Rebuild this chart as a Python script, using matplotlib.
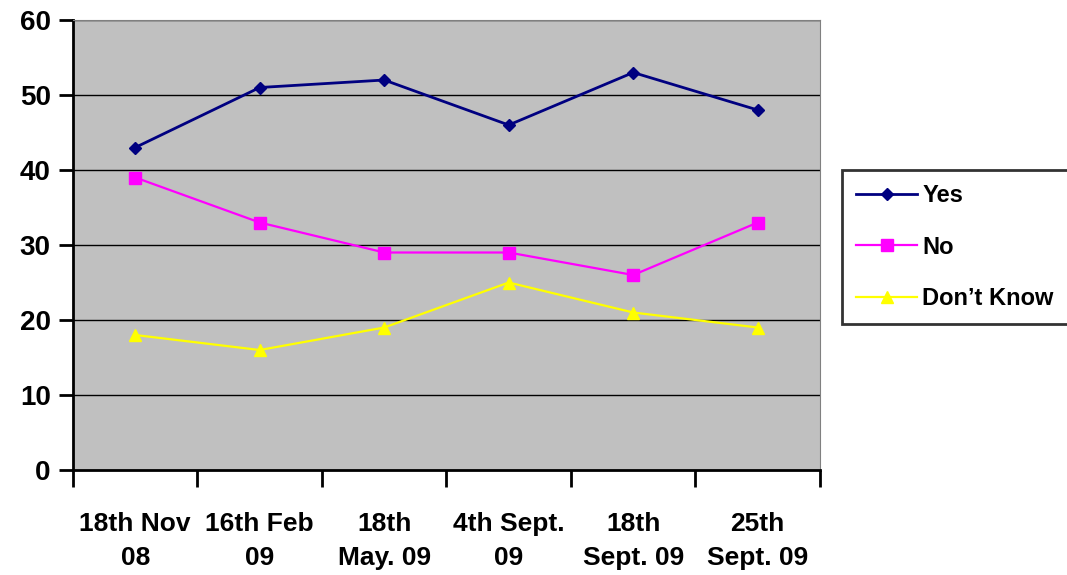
import matplotlib
matplotlib.use("Agg")
from matplotlib import pyplot as plt
import numpy as np

categories = ["18th Nov\n08", "16th Feb\n09", "18th\nMay. 09", "4th Sept.\n09",
              "18th\nSept. 09", "25th\nSept. 09"]
yes = [43, 51, 52, 46, 53, 48]
no = [39, 33, 29, 29, 26, 33]
dont_know = [18, 16, 19, 25, 21, 19]

plt.rcParams["font.family"] = ["Liberation Sans", "DejaVu Sans"]
plt.rcParams["font.weight"] = "bold"

fig = plt.figure(figsize=(10.67, 5.75), dpi=100)
ax = fig.add_axes([0.0684, 0.1826, 0.7001, 0.7826])
ax.set_facecolor("#C0C0C0")

x = np.arange(len(categories))
ax.plot(x, yes, color="#000080", marker="D", markersize=6, lw=2, label="Yes")
ax.plot(x, no, color="#FF00FF", marker="s", markersize=8, lw=1.6, label="No")
ax.plot(x, dont_know, color="#FFFF00", marker="^", markersize=8, lw=1.6, label="Don\u2019t Know")

ax.set_xlim(-0.5, len(categories) - 0.5)
ax.set_ylim(0, 60)
ax.set_yticks(range(0, 61, 10))
for yv in range(10, 61, 10):
    ax.axhline(yv, color="black", lw=1, zorder=0.5)

# category labels centred, tick marks on the boundaries
ax.set_xticks(x)
ax.set_xticklabels(categories, fontsize=19, fontweight="bold", linespacing=1.55)
ax.set_xticks(np.arange(-0.5, len(categories)), minor=True)
ax.tick_params(axis="x", which="major", length=0, pad=30)
ax.tick_params(axis="x", which="minor", length=12, width=2, direction="out")
ax.tick_params(axis="y", length=10, width=2, labelsize=20, pad=6)
for lab in ax.get_yticklabels():
    lab.set_fontweight("bold")

ax.spines["left"].set_linewidth(2)
ax.spines["bottom"].set_linewidth(2)
ax.spines["top"].set_color("#808080")
ax.spines["right"].set_color("#808080")

leg = fig.legend(loc="upper left", bbox_to_anchor=(0.789, 0.704), fontsize=17,
                 frameon=True, fancybox=False, edgecolor="black", handlelength=2.6,
                 handletextpad=0.2, labelspacing=1.2, borderpad=0.6, borderaxespad=0)
leg.get_frame().set_linewidth(2)
for t in leg.get_texts():
    t.set_fontweight("bold")

fig.savefig("out.png", dpi=100)
